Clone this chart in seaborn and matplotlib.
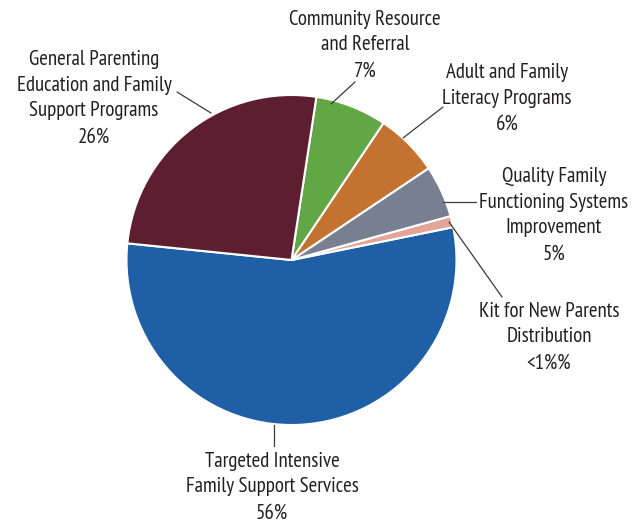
import matplotlib
matplotlib.use("Agg")
import matplotlib.pyplot as plt
import seaborn as sns

# ---- data ----
categories = [
    "Targeted Intensive\nFamily Support Services",
    "Kit for New Parents\nDistribution",
    "Quality Family\nFunctioning Systems\nImprovement",
    "Adult and Family\nLiteracy Programs",
    "Community Resource\nand Referral",
    "General Parenting\nEducation and Family\nSupport Programs",
]
shares = [54.8, 1.1, 5.1, 6.2, 7.0, 25.8]
pct_labels = ["56%", "<1%%", "5%", "6%", "7%", "26%"]
colors = ["#1F5FA6", "#E3A597", "#777F90", "#C37230", "#62A746", "#5D1E32"]

sns.set_theme(style="white")
plt.rcParams["font.family"] = ["PT Sans Narrow", "DejaVu Sans"]

W, H = 644, 527
fig = plt.figure(figsize=(W / 100, H / 100), dpi=100)
ax = fig.add_axes([0, 0, 1, 1])

cx, cy, r = 291.5, H - 260, 165
ax.pie(shares, colors=colors, startangle=174.2, counterclock=True,
       center=(cx, cy), radius=r, frame=True,
       wedgeprops=dict(edgecolor="white", linewidth=1.5))
ax.set_xlim(0, W)
ax.set_ylim(0, H)
ax.set_aspect("equal")
ax.axis("off")

txt_color = "#231F20"
line_color = "#3A3A3A"

# label block centres (pixel coords, y from top) and leader lines
label_pos = [(272, 487), (549, 337), (554, 215), (507, 98.5), (365, 45), (94, 98)]
leaders = [
    [(274, 425), (274, 446)],
    [(449, 222), (502, 297)],
    [(443, 202), (476, 202)],
    [(403, 138), (443, 107)],
    [(331, 104), (355, 82)],
    [(211, 113), (177, 92)],
]

for cat, pct, (x, y), ld in zip(categories, pct_labels, label_pos, leaders):
    ax.text(x, H - y, cat + "\n" + pct, ha="center", va="center",
            multialignment="center", fontsize=15, color=txt_color,
            linespacing=1.46)
    (x0, y0), (x1, y1) = ld
    ax.plot([x0, x1], [H - y0, H - y1], color=line_color, lw=0.9)

fig.savefig("out.png", dpi=100, facecolor="white")
